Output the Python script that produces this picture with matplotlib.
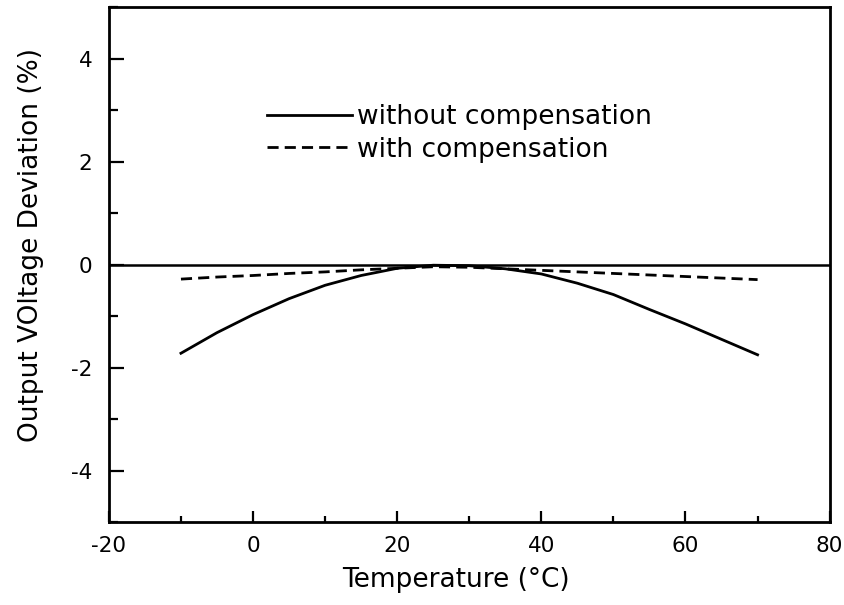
import matplotlib
matplotlib.use("Agg")
import matplotlib.pyplot as plt
from matplotlib.ticker import MultipleLocator

plt.rcParams["font.family"] = ["DejaVu Sans"]
plt.rcParams["axes.unicode_minus"] = False

temp = [-10, -5, 0, 5, 10, 15, 20, 25, 30, 35, 40, 45, 50, 55, 60, 65, 70]
without_comp = [-1.72, -1.32, -0.97, -0.66, -0.40, -0.21, -0.07, -0.01, -0.02,
                -0.08, -0.18, -0.36, -0.58, -0.87, -1.15, -1.45, -1.75]
with_comp = [-0.28, -0.24, -0.21, -0.17, -0.14, -0.10, -0.07, -0.04, -0.05,
             -0.08, -0.11, -0.14, -0.17, -0.20, -0.23, -0.26, -0.29]

fig = plt.figure(figsize=(8.44, 6.05), dpi=100)
ax = fig.add_axes([0.129, 0.137, 0.854, 0.851])

ax.axhline(0, color="black", lw=1.8)
ax.plot(temp, without_comp, color="black", lw=2.0, label="without compensation")
ax.plot(temp, with_comp, color="black", lw=2.0, linestyle=(0, (4, 2.2)),
        label="with compensation")

ax.set_xlim(-20, 80)
ax.set_ylim(-5, 5)
ax.xaxis.set_major_locator(MultipleLocator(20))
ax.xaxis.set_minor_locator(MultipleLocator(10))
ax.yaxis.set_major_locator(MultipleLocator(2))
ax.yaxis.set_minor_locator(MultipleLocator(1))
ax.tick_params(axis="both", which="both", direction="in", top=False, right=False,
               labelsize=15.5, width=1.6)
ax.tick_params(axis="x", which="major", length=8, pad=10)
ax.tick_params(axis="x", which="minor", length=4)
ax.tick_params(axis="y", which="major", length=11, pad=12)
ax.tick_params(axis="y", which="minor", length=6.5)
for s in ax.spines.values():
    s.set_linewidth(2)

ax.set_xlabel("Temperature (\u00b0C)", fontsize=19)
ax.set_ylabel("Output VOltage Deviation (%)", fontsize=19)
ax.xaxis.set_label_coords(0.481, -0.087)
ax.yaxis.set_label_coords(-0.09, 0.538)

ax.legend(loc="upper left", bbox_to_anchor=(0.22, 0.812), frameon=False,
          fontsize=19, handlelength=3.2, handletextpad=0.2, labelspacing=0.25,
          borderaxespad=0, borderpad=0)

fig.savefig("out.png", dpi=100)
